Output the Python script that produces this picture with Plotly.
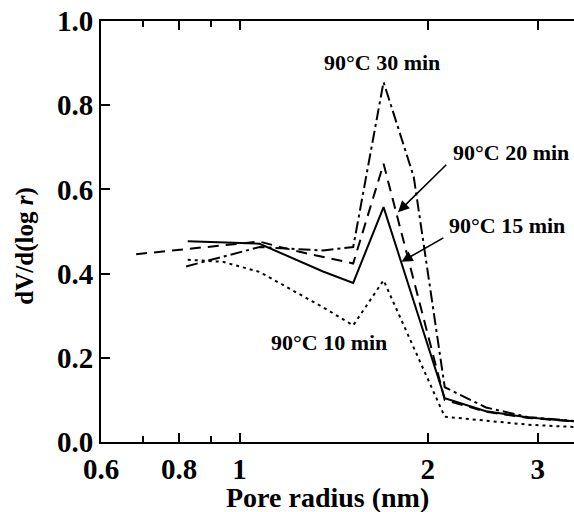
import math
import plotly.graph_objects as go

# Pore size distributions (BJH) after treatment at 90 °C
r_10 = [0.826, 0.94, 1.076, 1.36, 1.52, 1.70, 2.13, 2.48, 2.90, 3.5]
v_10 = [0.433, 0.428, 0.404, 0.320, 0.277, 0.384, 0.060, 0.050, 0.041, 0.035]

r_15 = [0.826, 1.076, 1.36, 1.52, 1.70, 2.13, 2.48, 2.90, 3.5]
v_15 = [0.477, 0.471, 0.405, 0.378, 0.558, 0.104, 0.073, 0.058, 0.048]

r_20 = [0.683, 1.076, 1.22, 1.52, 1.70, 2.13, 2.48, 2.90, 3.5]
v_20 = [0.446, 0.476, 0.455, 0.424, 0.661, 0.100, 0.072, 0.057, 0.048]

r_30 = [0.821, 1.076, 1.36, 1.52, 1.70, 1.90, 2.13, 2.48, 2.90, 3.5]
v_30 = [0.417, 0.463, 0.455, 0.463, 0.855, 0.630, 0.130, 0.082, 0.059, 0.049]

x_ticks = [0.6, 0.8, 1, 2, 3]
x_tick_text = ["0.6", "0.8", "1", "2", "3"]
x_minor = [0.7, 0.9]
y_ticks = [0.0, 0.2, 0.4, 0.6, 0.8, 1.0]

FONT = "Liberation Serif"

fig = go.Figure()
series = [
    (r_10, v_10, "90°C 10 min", "3px,4px"),
    (r_15, v_15, "90°C 15 min", "solid"),
    (r_20, v_20, "90°C 20 min", "11px,7px"),
    (r_30, v_30, "90°C 30 min", "12px,4px,3px,4px"),
]
for xs, ys, name, dash in series:
    fig.add_trace(go.Scatter(
        x=xs, y=ys, mode="lines", name=name,
        line=dict(color="black", width=2, dash=dash),
        showlegend=False,
    ))

lg = math.log10
ann_font = dict(family=FONT, size=22, color="black", weight="bold")

# curve labels
labels = [
    ("90°C 30 min", 1.690, 0.902),
    ("90°C 20 min", 2.72, 0.688),
    ("90°C 15 min", 2.68, 0.515),
    ("90°C 10 min", 1.389, 0.237),
]
annotations = [
    dict(x=lg(x), y=y, xref="x", yref="y", text=t, showarrow=False,
         font=ann_font, xanchor="center", yanchor="middle")
    for t, x, y in labels
]
# arrows pointing to the 20 min and 15 min curves
arrows = [
    ((1.793, 0.546), (2.154, 0.662)),
    ((1.816, 0.428), (2.131, 0.487)),
]
for (hx, hy), (tx, ty) in arrows:
    annotations.append(dict(
        x=lg(hx), y=hy, ax=lg(tx), ay=ty, xref="x", yref="y",
        axref="x", ayref="y", text="", showarrow=True,
        arrowhead=2, arrowsize=1.4, arrowwidth=1.6, arrowcolor="black",
        standoff=0, startstandoff=0,
    ))

# axis titles
annotations.append(dict(
    x=0.478, y=-0.131, xref="paper", yref="paper", text="Pore radius (nm)",
    showarrow=False, xanchor="center", yanchor="middle",
    font=dict(family=FONT, size=28, color="black", weight="bold"),
))
annotations.append(dict(
    x=-0.161, y=0.466, xref="paper", yref="paper", text="dV/d(log <i>r</i>)",
    showarrow=False, xanchor="center", yanchor="middle", textangle=-90,
    font=dict(family=FONT, size=25, color="black", weight="bold"),
))

tick_font = dict(family=FONT, size=29, color="black", weight="bold")

fig.update_layout(
    width=574, height=512,
    margin=dict(l=101, r=0, t=21, b=70),
    paper_bgcolor="white", plot_bgcolor="white",
    annotations=annotations,
    xaxis=dict(
        type="log", range=[lg(0.6), lg(3.43)],
        tickvals=x_ticks, ticktext=x_tick_text,
        ticks="inside", ticklen=9, tickwidth=2, tickcolor="black",
        minor=dict(tickvals=x_minor, ticks="inside", ticklen=6,
                   tickwidth=1.5, tickcolor="black", showgrid=False),
        showline=True, linewidth=2, linecolor="black", mirror="ticks",
        showgrid=False, zeroline=False,
        tickfont=tick_font,
    ),
    yaxis=dict(
        range=[0, 1.0], tickvals=y_ticks, tickformat=".1f",
        ticks="inside", ticklen=9, tickwidth=2, tickcolor="black",
        showline=True, linewidth=2, linecolor="black", mirror=False,
        showgrid=False, zeroline=False,
        tickfont=tick_font,
    ),
)

fig.write_html("out.html")
